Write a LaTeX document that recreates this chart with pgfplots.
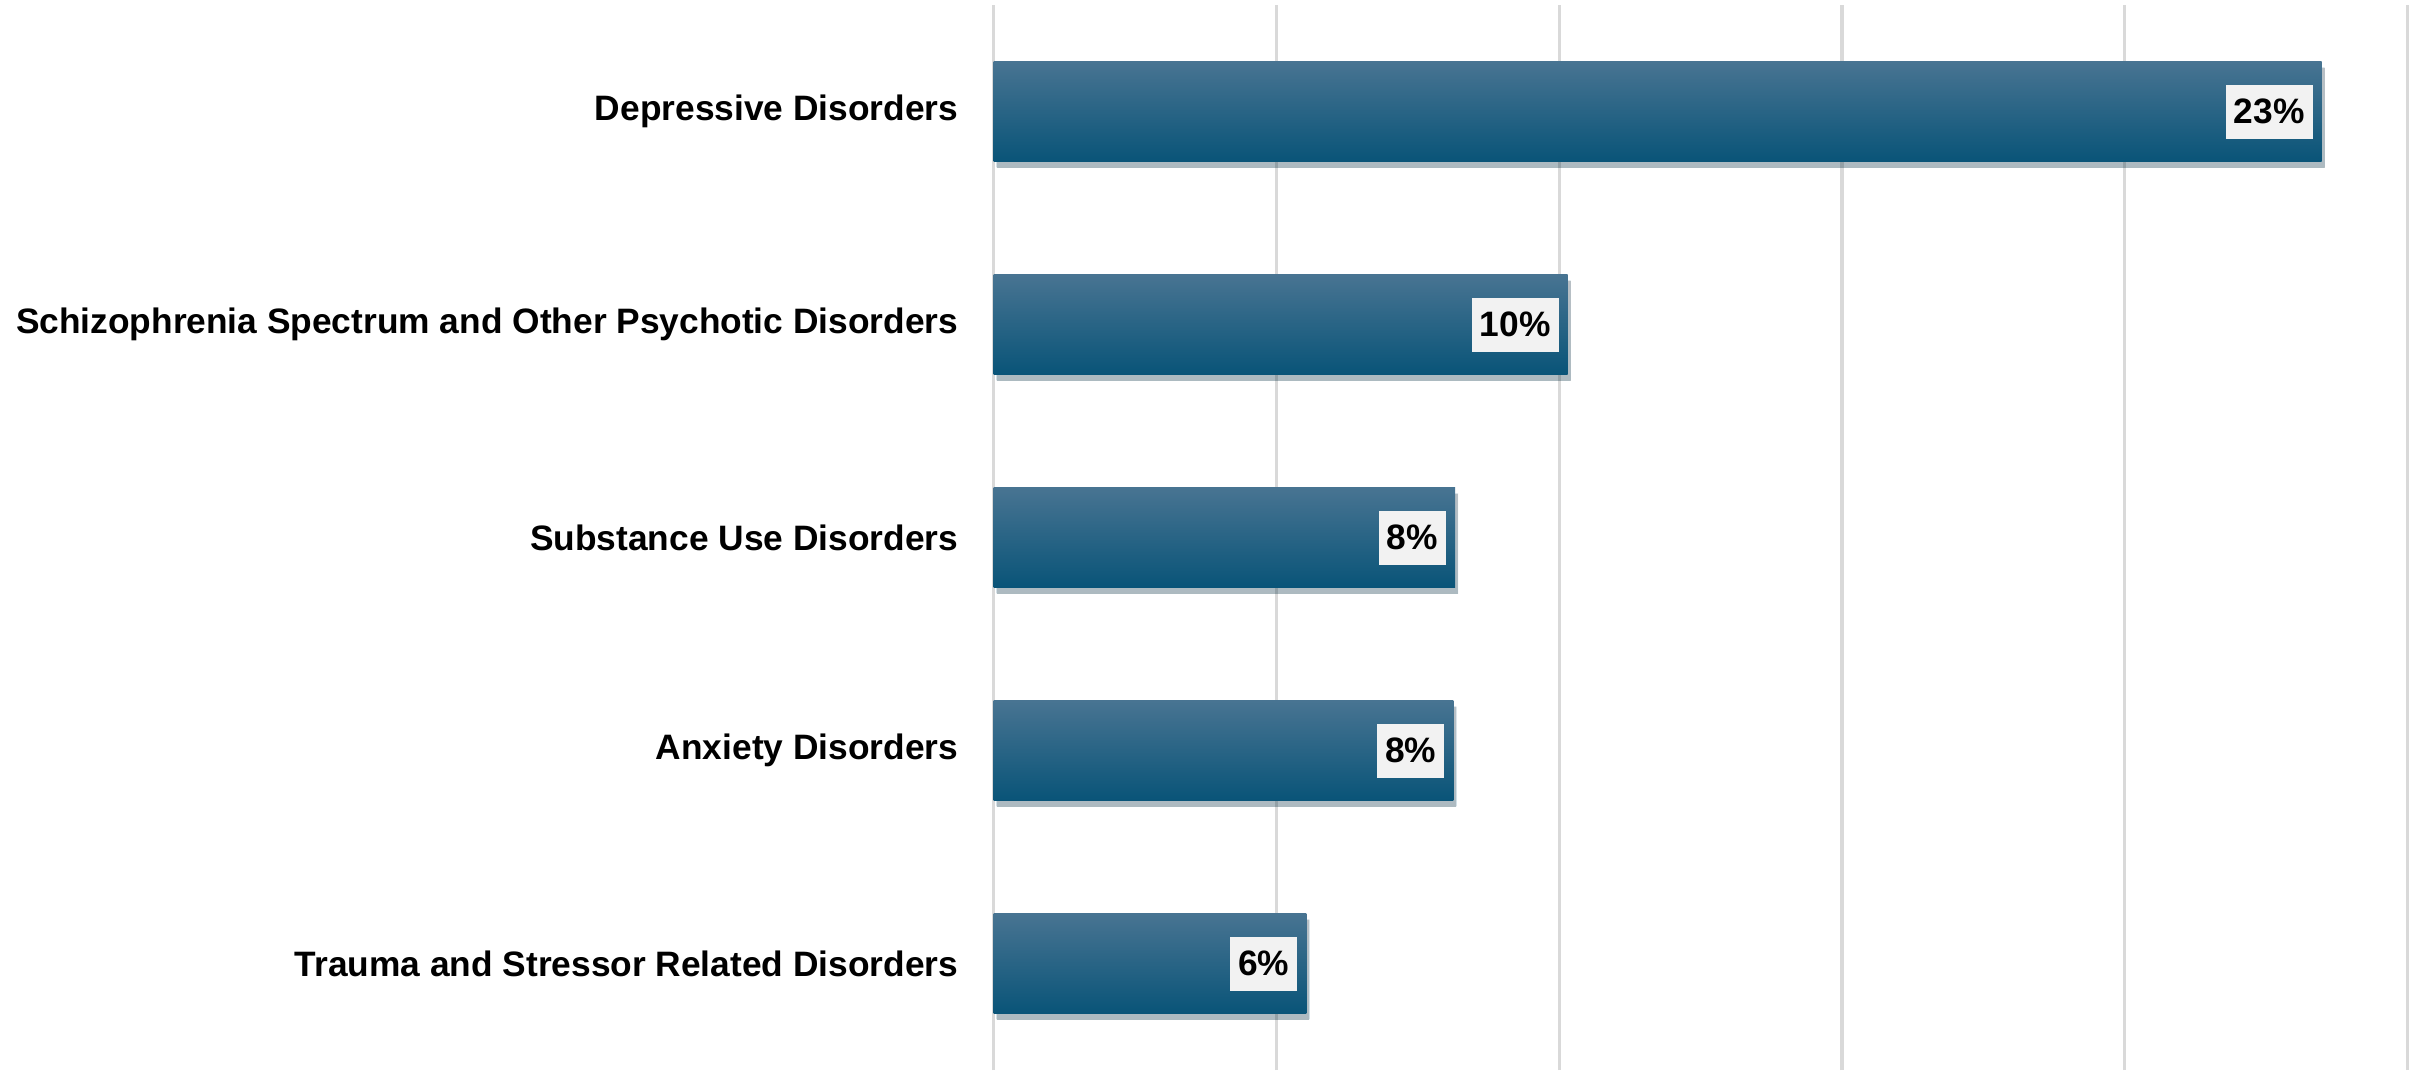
\documentclass[border=0pt]{standalone}
\usepackage{pgfplots}
\pgfplotsset{compat=1.18}
\usepackage{fontspec}
\setmainfont{Liberation Sans}
\usetikzlibrary{shadows}
\definecolor{gridc}{RGB}{217,217,217}
\definecolor{bartop}{RGB}{72,116,146}
\definecolor{barmid}{RGB}{18,98,134}
\definecolor{barbot}{RGB}{9,84,120}
\definecolor{lblfill}{RGB}{242,242,242}
\pgfplotsset{
  mybar/.style={draw=none, bar shift=0pt, top color=bartop, middle color=barmid, bottom color=barbot,
    drop shadow={shadow xshift=0.3mm, shadow yshift=-0.6mm, opacity=0.18, fill=black}},
}
\begin{document}
\begin{tikzpicture}
\path[use as bounding box] (-99.36mm,0) rectangle (143.14mm,107mm);
\begin{axis}[
  at={(0,0)}, anchor=south west,
  scale only axis,
  width=141.41mm, height=106.5mm,
  xmin=0, xmax=25,
  ymin=-0.5, ymax=4.5,
  xtick={0,5,10,15,20,25},
  xticklabels={},
  xmajorgrids,
  grid style={gridc, line width=0.9pt},
  major tick length=0pt,
  axis line style={draw=none},
  ytick={0,1,2,3,4},
  yticklabels={Trauma and Stressor Related Disorders, Anxiety Disorders\ , Substance Use Disorders, Schizophrenia Spectrum and Other Psychotic Disorders, Depressive Disorders},
  yticklabel style={font=\fontsize{10.05pt}{12pt}\selectfont\bfseries, anchor=east, xshift=-2.3mm},
  xbar,
  bar width=10mm,
  point meta=explicit symbolic,
  nodes near coords,
  nodes near coords style={font=\fontsize{10.05pt}{12pt}\selectfont\bfseries, anchor=east, xshift=-0.85mm, fill=lblfill, inner xsep=0.8mm, minimum height=5.4mm, text=black},
]
\addplot[mybar] coordinates {(5.53,0) [6\%]};
\addplot[mybar] coordinates {(8.13,1) [8\%]};
\addplot[mybar] coordinates {(8.16,2) [8\%]};
\addplot[mybar] coordinates {(10.15,3) [10\%]};
\addplot[mybar] coordinates {(23.48,4) [23\%]};
\end{axis}
\end{tikzpicture}
\end{document}
